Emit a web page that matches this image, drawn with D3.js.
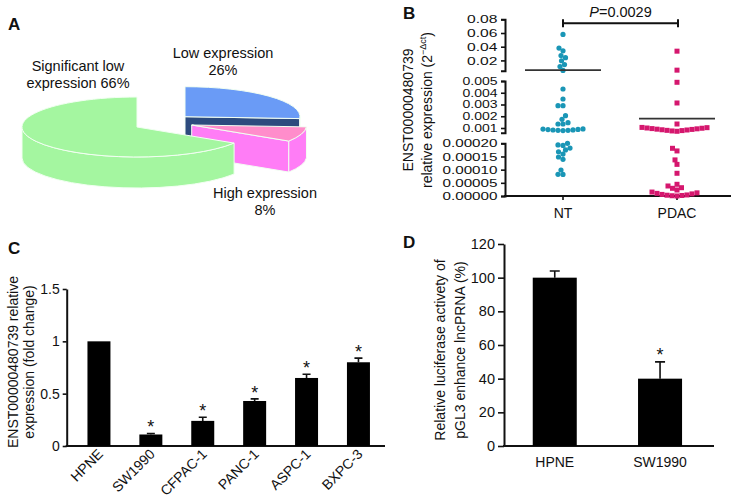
<!DOCTYPE html>
<html><head><meta charset="utf-8">
<script src="https://cdn.jsdelivr.net/npm/d3@7"></script>
<style>
html,body{margin:0;padding:0;background:#fff;}
svg{display:block;font-family:"Liberation Sans",Arial,sans-serif;}
</style></head><body>
<svg id="chart" width="736" height="502"></svg>
<script>
// ---------- DATA ----------
// Panel A
const pieCategories = ["Low expression", "High expression", "Significant low expression"];
const piePercents = [26, 8, 66];
// Panel B
const groupsB = ["NT", "PDAC"];
const valuesNT = [0.058, 0.038, 0.034, 0.027, 0.024, 0.0195, 0.014, 0.011, 0.0054,
  0.00432, 0.00347, 0.0029, 0.0029, 0.00205, 0.00174, 0.00145, 0.00134, 0.00134,
  0.00092, 0.00088, 0.00084, 0.0008, 0.00078, 0.0008, 0.00083, 0.00087, 0.00091,
  0.0002, 0.000194, 0.000192, 0.000182, 0.000175, 0.000168, 0.000159, 0.000148, 0.000139,
  0.0000987, 0.0000824, 0.000082];
const valuesPDAC = [0.0335, 0.0058,
  0.00489, 0.00313, 0.00134,
  0.00105, 0.001, 0.00095, 0.0009, 0.00085, 0.0008, 0.00075, 0.00072, 0.00078, 0.00083, 0.00088, 0.00093, 0.00098, 0.00103,
  0.000181, 0.000171, 0.000137, 0.00012, 0.0000862,
  0.0000444, 0.000038, 0.0000315, 0.0000292, 0.0000228,
  0.000015, 0.000012, 0.00001, 0.000008, 0.000006, 0.000004, 0.000003, 0.000002, 0.000001, 0];
const meansB = [0.0058, 0.0018];
const pValueNumber = "=0.0029";
const domainB1 = [0.005, 0.08], ticksB1 = [0.02, 0.04, 0.06, 0.08];
const domainB2 = [0.0006, 0.005], ticksB2 = [0.001, 0.002, 0.003, 0.004, 0.005];
const domainB3 = [0, 0.0002], ticksB3 = [0, 0.00005, 0.0001, 0.00015, 0.0002];
// Panel C
const cellLinesC = ["HPNE", "SW1990", "CFPAC-1", "PANC-1", "ASPC-1", "BXPC-3"];
const valuesC = [1, 0.11, 0.24, 0.43, 0.65, 0.80];
const errorsC = [0, 0.01, 0.035, 0.02, 0.035, 0.04];
const starsC = [false, true, true, true, true, true];
const ticksC = [0, 0.5, 1, 1.5];
// Panel D
const cellLinesD = ["HPNE", "SW1990"];
const valuesD = [100, 40];
const errorsD = [4, 10];
const starsD = [false, true];
const ticksD = [0, 20, 40, 60, 80, 100, 120];

// ---------- DRAW ----------
const svg = d3.select("#chart");
svg.append("rect").attr("width", 736).attr("height", 502).attr("fill", "#fff");
const ink = "#111";

function panelLabel(t, x, y) {
  svg.append("text").attr("x", x).attr("y", y).attr("font-size", 17).attr("font-weight", "bold")
    .attr("fill", ink).text(t);
}
panelLabel("A", 8, 30); panelLabel("B", 403, 19); panelLabel("C", 8, 254); panelLabel("D", 403, 248);

// ===== Panel A: 3D pie =====
(function () {
  const arcs = d3.pie().sort(null).value(d => d)(piePercents);
  const cols = [
    { top: "#6a9bf6", side: "#2d4b7e" },
    { top: "#ff8dcb", side: "#ff7df6" },
    { top: "#a4f6a0", side: "#a4f6a0" }
  ];
  const explode = [[48, -10.3], [54.7, -2], [0, 0]];
  const c0 = [137, 127], rx = 115, ry = 30, depth = 31;
  const g = svg.append("g");
  arcs.forEach((a, i) => {
    const cx = c0[0] + explode[i][0], cy = c0[1] + explode[i][1];
    const p = (ang, dy = 0) => [cx + rx * Math.sin(ang), cy - ry * Math.cos(ang) + dy];
    const s = a.startAngle, e = a.endAngle;
    const sg = g.append("g").attr("stroke", "#f2fff2").attr("stroke-width", 1).attr("stroke-linejoin", "round");
    const face = ang => {
      const q = p(ang), qd = p(ang, depth);
      sg.append("path").attr("fill", cols[i].side)
        .attr("d", `M${cx},${cy}L${q[0]},${q[1]}L${qd[0]},${qd[1]}L${cx},${cy + depth}Z`);
    };
    if (Math.sin(s) < -1e-3) face(s);
    if (Math.sin(e) > 1e-3) face(e);
    const a1 = Math.max(s, Math.PI / 2), a2 = Math.min(e, 3 * Math.PI / 2);
    if (a1 < a2) {
      const t1 = p(a1), t2 = p(a2), b2 = p(a2, depth), b1 = p(a1, depth);
      sg.append("path").attr("fill", cols[i].side)
        .attr("d", `M${t1}A${rx},${ry} 0 0 1 ${t2}L${b2}A${rx},${ry} 0 0 0 ${b1}Z`);
    }
    const ps = p(s), pe = p(e);
    const large = (e - s) > Math.PI ? 1 : 0;
    sg.append("path").attr("fill", cols[i].top)
      .attr("d", `M${cx},${cy}L${ps}A${rx},${ry} 0 ${large} 1 ${pe}Z`);
  });
  const lab = (lines, x, ys) => lines.forEach((t, k) =>
    svg.append("text").attr("x", x).attr("y", ys[k]).attr("text-anchor", "middle")
      .attr("font-size", 14.5).attr("fill", ink).text(t));
  lab(["Significant low", "expression " + piePercents[2] + "%"], 78, [71, 88]);
  lab(["Low expression", piePercents[0] + "%"], 223, [58, 75]);
  lab(["High expression", piePercents[1] + "%"], 265, [198, 215]);
})();

// ===== Panel B: scatter with broken axis =====
(function () {
  const axX = 505, baseY = 196;
  const segs = [
    { s: d3.scaleLinear(domainB1, [70.7, 19.3]), ticks: ticksB1, fmt: d3.format(".2f"), fs: 11.5 },
    { s: d3.scaleLinear(domainB2, [132.7, 81]), ticks: ticksB2, fmt: d3.format(".3f"), fs: 10.3 },
    { s: d3.scaleLinear(domainB3, [196, 143.3]), ticks: ticksB3, fmt: d3.format(".5f"), fs: 11.2 }
  ];
  const yB = v => v >= domainB1[0] ? segs[0].s(v) : (v >= domainB2[0] ? segs[1].s(v) : segs[2].s(v));
  const sx = 1.36;
  segs.forEach(sg => {
    const ax = svg.append("g").attr("transform", `translate(${axX},0)`)
      .call(d3.axisLeft(sg.s).tickValues(sg.ticks).tickFormat(sg.fmt).tickSizeInner(4).tickSizeOuter(4).tickPadding(3));
    ax.select(".domain").attr("stroke", ink).attr("stroke-width", 2);
    ax.selectAll(".tick line").attr("stroke", ink).attr("stroke-width", 1.6);
    ax.selectAll(".tick text").attr("font-size", sg.fs).attr("font-family", "Liberation Sans,Arial,sans-serif")
      .attr("fill", ink).attr("x", -7.5 / sx).attr("transform", `scale(${sx},1)`);
  });
  const x = d3.scalePoint().domain(groupsB).range([563, 677]);
  svg.append("line").attr("x1", axX - 1).attr("x2", 731).attr("y1", baseY).attr("y2", baseY)
    .attr("stroke", ink).attr("stroke-width", 2);
  groupsB.forEach(gn => {
    svg.append("line").attr("x1", x(gn)).attr("x2", x(gn)).attr("y1", baseY).attr("y2", baseY + 4)
      .attr("stroke", ink).attr("stroke-width", 1.6);
    svg.append("text").attr("x", x(gn)).attr("y", 218).attr("text-anchor", "middle")
      .attr("font-size", 14).attr("fill", ink).text(gn);
  });
  function swarm(values, cx, D) {
    const pts = values.map(v => ({ v, y: yB(v) })).sort((a, b) => b.y - a.y);
    const placed = [];
    pts.forEach(pt => {
      for (let k = 0; k < 400; k++) {
        const off = (k % 2 === 0 ? 1 : -1) * Math.ceil(k / 2) * 0.5;
        const xx = cx + off;
        if (placed.every(q => Math.hypot(q.x - xx, q.y - pt.y) >= D)) { pt.x = xx; break; }
      }
      placed.push(pt);
    });
    return placed;
  }
  const nt = swarm(valuesNT, x("NT"), 4.8);
  svg.append("g").selectAll("circle").data(nt).join("circle")
    .attr("cx", d => d.x).attr("cy", d => d.y).attr("r", 2.6).attr("fill", "#1a96b6");
  const pd = swarm(valuesPDAC, x("PDAC"), 4.8);
  svg.append("g").selectAll("rect").data(pd).join("rect")
    .attr("x", d => d.x - 2.5).attr("y", d => d.y - 2.5).attr("width", 5).attr("height", 5).attr("fill", "#d5176e");
  groupsB.forEach((gn, i) => {
    svg.append("line").attr("x1", x(gn) - 38).attr("x2", x(gn) + 38).attr("y1", yB(meansB[i])).attr("y2", yB(meansB[i]))
      .attr("stroke", "#333").attr("stroke-width", 1.6);
  });
  const by = 23.3, x1 = x("NT"), x2 = x("PDAC") + 1;
  svg.append("path").attr("d", `M${x1},${by}H${x2}M${x1},${by - 4}V${by + 4}M${x2},${by - 4}V${by + 4}`)
    .attr("stroke", ink).attr("stroke-width", 2).attr("fill", "none");
  const pt = svg.append("text").attr("x", (x1 + x2) / 2).attr("y", 16.5).attr("text-anchor", "middle")
    .attr("font-size", 14.5).attr("fill", ink);
  pt.append("tspan").attr("font-style", "italic").text("P");
  pt.append("tspan").text(pValueNumber);
  const yl = svg.append("g").attr("transform", "translate(0,110)");
  yl.append("text").attr("transform", "translate(413,0) rotate(-90)").attr("text-anchor", "middle")
    .attr("font-size", 14).attr("fill", ink).text("ENST00000480739");
  const l2 = yl.append("text").attr("transform", "translate(432,0) rotate(-90)").attr("text-anchor", "middle")
    .attr("font-size", 14).attr("fill", ink);
  l2.append("tspan").text("relative expression (2");
  l2.append("tspan").attr("font-size", 9).attr("dy", -6).text("\u2212\u0394ct");
  l2.append("tspan").attr("dy", 6).text(")");
})();

// ===== Bar panels C and D =====
function barPanel(cfg) {
  const y = d3.scaleLinear().domain(cfg.yDomain).range([446, cfg.yTop]);
  const x = d3.scaleBand().domain(cfg.cats).range(cfg.xRange).paddingInner(cfg.pi).paddingOuter(cfg.po);
  const ax = svg.append("g").attr("transform", `translate(${cfg.axX},0)`)
    .call(d3.axisLeft(y).tickValues(cfg.ticks).tickFormat(d => d).tickSizeInner(cfg.tick).tickSizeOuter(0).tickPadding(3));
  ax.select(".domain").attr("stroke", ink).attr("stroke-width", 2);
  ax.selectAll(".tick line").attr("stroke", ink).attr("stroke-width", 1.6);
  ax.selectAll(".tick text").attr("font-size", cfg.fs).attr("font-family", "Liberation Sans,Arial,sans-serif").attr("fill", ink);
  svg.append("line").attr("x1", cfg.axX - 1).attr("x2", cfg.xEnd).attr("y1", 446).attr("y2", 446)
    .attr("stroke", ink).attr("stroke-width", 2);
  const g = svg.append("g");
  cfg.cats.forEach((c, i) => {
    const cx = x(c) + x.bandwidth() / 2;
    if (cfg.errs[i] > 0) {
      const yt = y(cfg.vals[i] + cfg.errs[i]);
      g.append("path").attr("d", `M${cx},${y(cfg.vals[i])}V${yt}M${cx - cfg.cap},${yt}H${cx + cfg.cap}`)
        .attr("stroke", ink).attr("stroke-width", 1.6).attr("fill", "none");
    }
    g.append("rect").attr("x", x(c)).attr("y", y(cfg.vals[i])).attr("width", x.bandwidth())
      .attr("height", 446 - y(cfg.vals[i])).attr("fill", "#000");
    if (cfg.stars[i]) {
      g.append("text").attr("x", cx).attr("y", y(cfg.vals[i] + cfg.errs[i]) - cfg.starGap + 10)
        .attr("text-anchor", "middle").attr("font-size", 18).attr("fill", ink).text("*");
    }
    if (cfg.rotate) {
      g.append("text").attr("transform", `translate(${cx + 5},${455}) rotate(-45)`).attr("text-anchor", "end")
        .attr("font-size", 14).attr("fill", ink).text(c);
    } else {
      g.append("text").attr("x", cx).attr("y", 467).attr("text-anchor", "middle")
        .attr("font-size", 14).attr("fill", ink).text(c);
    }
  });
  cfg.ylab.forEach((t, k) => {
    svg.append("text").attr("transform", `translate(${cfg.ylabX[k]},${cfg.ylabY}) rotate(-90)`)
      .attr("text-anchor", "middle").attr("font-size", 14).attr("fill", ink).text(t);
  });
}
barPanel({
  cats: cellLinesC, vals: valuesC, errs: errorsC, stars: starsC, ticks: ticksC,
  yDomain: [0, 1.5], yTop: 289, axX: 66.7, xRange: [66.7, 390.7], pi: 0.557, po: 0.4, xEnd: 385,
  tick: 4, fs: 14, cap: 4, starGap: 10, rotate: true,
  ylab: ["ENST00000480739 relative", "expression (fold change)"], ylabX: [18, 34], ylabY: 362
});
barPanel({
  cats: cellLinesD, vals: valuesD, errs: errorsD, stars: starsD, ticks: ticksD,
  yDomain: [0, 120], yTop: 244, axX: 504, xRange: [504, 710.8], pi: 0.582, po: 0.273, xEnd: 714,
  tick: 6, fs: 14.5, cap: 5, starGap: 11, rotate: false,
  ylab: ["Relative luciferase activety of", "pGL3 enhance lncPRNA (%)"], ylabX: [445, 465], ylabY: 350
});
</script>
</body></html>
